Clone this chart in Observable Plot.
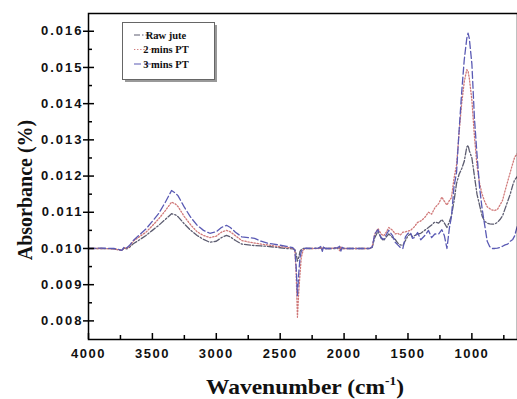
<!DOCTYPE html>
<html><head><meta charset="utf-8">
<script src="https://cdn.jsdelivr.net/npm/d3@7"></script>
<script src="https://cdn.jsdelivr.net/npm/@observablehq/plot@0.6"></script>
<style>
body{margin:0;background:#fff;}
#chart svg [aria-label^="x-axis"] text{letter-spacing:1.5px;}
#chart svg [aria-label^="y-axis"] text{letter-spacing:2px;}
</style></head><body><div id="chart"></div>
<script>
const wavenumber = [4000,3900,3800,3760,3740,3720,3700,3680,3650,3600,3550,3500,3450,3400,3350,3320,3300,3250,3200,3150,3100,3050,3000,2960,2920,2890,2850,2800,2750,2700,2650,2600,2550,2500,2450,2400,2385,2375,2365,2355,2345,2335,2320,2300,2250,2200,2180,2170,2160,2150,2100,2050,2035,2025,2015,2000,1950,1900,1850,1800,1780,1760,1735,1710,1690,1670,1650,1620,1600,1580,1560,1540,1520,1500,1480,1465,1450,1425,1400,1370,1340,1315,1290,1260,1235,1215,1195,1175,1160,1140,1120,1100,1080,1060,1040,1030,1020,1000,980,960,940,920,900,880,860,840,820,800,780,760,740,720,700,680,665,650,643];
const rawJute = [.01000,.01000,.00999,.00996,.00994,.01001,.00999,.01003,.01013,.01024,.01036,.01050,.01064,.01080,.01096,.01093,.01088,.01068,.01050,.01036,.01025,.01017,.01020,.01030,.01036,.01032,.01022,.01012,.01010,.01008,.01007,.01006,.01004,.01002,.01000,.00999,.00997,.00985,.00965,.00975,.00992,.00997,.01000,.01000,.01000,.01001,.01002,.00995,.01003,.01000,.01000,.01000,.01002,.00997,.01000,.01000,.01000,.01000,.01000,.01000,.01003,.01030,.01047,.01028,.01022,.01032,.01040,.01030,.01025,.01015,.01010,.01008,.01022,.01035,.01040,.01032,.01035,.01040,.01042,.01050,.01058,.01065,.01073,.01070,.01080,.01070,.01058,.01075,.01090,.01130,.01180,.01205,.01220,.01240,.01280,.01285,.01270,.01250,.01200,.01150,.01120,.01090,.01075,.01070,.01068,.01067,.01068,.01072,.01080,.01090,.01110,.01130,.01150,.01175,.01190,.01196,.01200];
const twoMinsPT = [.01000,.01000,.00999,.00996,.00995,.01002,.01000,.01006,.01020,.01033,.01045,.01063,.01082,.01104,.01128,.01123,.01116,.01088,.01065,.01046,.01036,.01030,.01034,.01045,.01050,.01046,.01035,.01022,.01018,.01015,.01012,.01010,.01007,.01005,.01003,.01001,.00995,.00930,.00810,.00880,.00930,.00975,.00996,.01000,.01000,.01000,.01002,.00998,.01003,.01000,.01000,.01003,.00994,.01006,.00998,.01000,.01000,.01000,.01000,.01000,.01005,.01040,.01055,.01040,.01035,.01045,.01058,.01050,.01040,.01042,.01037,.01045,.01046,.01048,.01050,.01055,.01060,.01072,.01076,.01085,.01100,.01095,.01112,.01124,.01142,.01130,.01120,.01133,.01140,.01193,.01230,.01320,.01400,.01460,.01494,.01490,.01470,.01410,.01310,.01230,.01180,.01150,.01130,.01115,.01110,.01106,.01105,.01108,.01120,.01133,.01160,.01185,.01210,.01235,.01252,.01260,.01262];
const threeMinsPT = [.01000,.01001,.01000,.00997,.00995,.01004,.01002,.01008,.01022,.01038,.01054,.01075,.01097,.01127,.01160,.01153,.01146,.01114,.01086,.01064,.01050,.01042,.01046,.01058,.01064,.01058,.01045,.01032,.01030,.01028,.01020,.01015,.01012,.01009,.01006,.01002,.00994,.00950,.00870,.00930,.00975,.00992,.00998,.01001,.01000,.01001,.01006,.00992,.01007,.01000,.01000,.01002,.01006,.00993,.01003,.01000,.01000,.01000,.01000,.01000,.01004,.01040,.01052,.01030,.01025,.01038,.01050,.01035,.01017,.01010,.01003,.01000,.01032,.01042,.01044,.01028,.01030,.01044,.01024,.01035,.01050,.01030,.01040,.01040,.01052,.01035,.01000,.01059,.01087,.01170,.01210,.01326,.01430,.01520,.01580,.01595,.01580,.01510,.01360,.01260,.01170,.01110,.01065,.01020,.01005,.01000,.01000,.01001,.01003,.01006,.01010,.01012,.01020,.01025,.01035,.01055,.01062];
const seriesNames = ["Raw jute","2 mins PT","3 mins PT"];
const xTicks = [4000,3500,3000,2500,2000,1500,1000];
const xMinorTicks = [3750,3250,2750,2250,1750,1250,750];
const yTicks = [0.008,0.009,0.010,0.011,0.012,0.013,0.014,0.015,0.016];
const yMinorTicks = [0.0085,0.0095,0.0105,0.0115,0.0125,0.0135,0.0145,0.0155];

const W = 517, H = 399, mL = 88, mR = 0, mT = 13, mB = 60;
const fw = W - mL - mR, fh = H - mT - mB;
const styles = [
  {stroke:"#5c5c70", dash:"6,2,1.5,2"},
  {stroke:"#d07878", dash:"1.3,1.8"},
  {stroke:"#5a5ab4", dash:"7,3"}
];
const seriesVals = [rawJute, twoMinsPT, threeMinsPT];
const rows = seriesVals.map(vals => wavenumber.map((w,i) => ({w, v: vals[i]})));

const chart = Plot.plot({
  width: W, height: H,
  marginLeft: mL, marginRight: mR, marginTop: mT, marginBottom: mB,
  style: {fontFamily:"'Liberation Sans', Arial, sans-serif", fontSize:"13px", fontWeight:"bold", color:"#111", background:"#fff", overflow:"visible"},
  x: {domain:[4000,643], ticks: xTicks, tickSize:0, tickPadding:9, tickFormat: d => String(d), label:null},
  y: {domain:[0.007486,0.01649], ticks: yTicks, tickSize:0, tickPadding:5, tickFormat: d3.format(".3f"), label:null},
  marks: [
    ...rows.map((r,k) => Plot.line(r, {x:"w", y:"v", stroke: styles[k].stroke, strokeWidth:1.3, strokeDasharray: styles[k].dash})),
    Plot.tickX(xTicks, {x: d => d, insetTop: fh - 6, stroke:"#000", strokeWidth:1.5}),
    Plot.tickX(xMinorTicks, {x: d => d, insetTop: fh - 4, stroke:"#000", strokeWidth:1.5}),
    Plot.tickY(yTicks, {y: d => d, insetLeft: -5, insetRight: fw - 6, stroke:"#000", strokeWidth:1.5}),
    Plot.tickY(yMinorTicks, {y: d => d, insetRight: fw - 4, stroke:"#000", strokeWidth:1.5}),
    Plot.frame({stroke:"#000", strokeWidth:1.5})
  ]
});
document.getElementById("chart").appendChild(chart);

const svg = d3.select(chart);
const serif = "'Liberation Serif', 'Times New Roman', serif";
svg.append("text")
  .attr("transform","translate(32,190) rotate(-90)")
  .attr("text-anchor","middle")
  .style("font-family", serif).style("font-size","20px").style("font-weight","bold")
  .attr("fill","#111")
  .text("Absorbance (%)");
const xt = svg.append("text")
  .attr("transform","translate(305,394) scale(1.12,1)")
  .attr("text-anchor","middle")
  .style("font-family", serif).style("font-size","21px").style("font-weight","bold")
  .attr("fill","#111");
xt.append("tspan").text("Wavenumber (cm");
xt.append("tspan").attr("dy",-9).style("font-size","12px").text("-1");
xt.append("tspan").attr("dy",9).text(")");

// legend
const lg = svg.append("g");
lg.append("rect").attr("x",125).attr("y",25).attr("width",92).attr("height",57).attr("fill","#999");
lg.append("rect").attr("x",122.5).attr("y",22.5).attr("width",92).attr("height",57).attr("fill","#fff").attr("stroke","#666").attr("stroke-width",1);
seriesNames.forEach((name,k) => {
  const y = 35 + k*14.5;
  lg.append("line").attr("x1",134).attr("x2",159).attr("y1",y).attr("y2",y)
    .attr("stroke",styles[k].stroke).attr("stroke-width",1.2).attr("stroke-dasharray",styles[k].dash);
  lg.append("text").attr("x",166).attr("y",y+3.5)
    .style("font-family", serif).style("font-size","10.5px").style("font-weight","bold")
    .attr("fill","#111").text(name);
});
</script></body></html>
